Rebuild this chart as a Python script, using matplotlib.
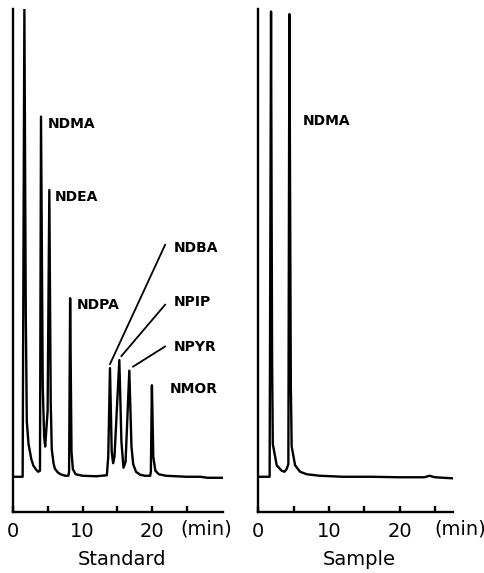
import matplotlib
matplotlib.use("Agg")
import matplotlib.pyplot as plt

# ---- Data (time in min, detector signal in % of full scale) ----
std_time = [0.0, 1.35, 1.6, 1.8, 1.95, 2.2, 2.6, 2.9, 3.3, 3.6, 3.85,
            4.0, 4.25, 4.45, 4.6, 4.95, 5.2, 5.4, 5.55, 5.8, 6.0, 6.4, 6.8, 7.5, 7.95,
            8.05, 8.2, 8.4, 8.6, 9.0, 10.0, 12.0, 13.5,
            13.7, 13.95, 14.2, 14.4, 14.6, 15.3, 15.6, 15.9,
            16.2, 16.74, 17.05, 17.3, 17.7, 18.3, 19.0, 19.75,
            19.85, 20.0, 20.2, 20.5, 21.0, 22.0, 25.0, 27.0, 28.0, 30.1]
std_signal = [7.0, 7.0, 100.0, 40.0, 18.0, 13.5, 10.5, 9.2, 8.4, 8.0, 8.2,
              78.6, 25.0, 15.0, 13.0, 20.0, 64.0, 22.0, 12.5, 9.7, 8.6, 7.9, 7.5, 7.2, 7.2,
              8.0, 42.5, 12.0, 8.5, 7.5, 7.2, 7.1, 7.3,
              11.0, 28.6, 12.0, 9.7, 11.0, 30.2, 14.0, 8.8,
              10.0, 28.1, 13.0, 9.5, 8.0, 7.4, 7.2, 7.2,
              8.0, 25.2, 11.0, 8.2, 7.5, 7.2, 7.0, 7.0, 6.8, 6.8]

smp_time = [0.0, 1.6, 1.8, 1.95, 2.05, 2.6, 3.3, 3.7, 4.0, 4.25,
            4.4, 4.6, 4.72, 5.2, 5.9, 6.85, 8.7, 12.0, 16.0, 20.0, 23.5, 24.2, 25.0, 27.4]
smp_signal = [7.0, 7.0, 99.5, 30.0, 13.5, 9.3, 8.2, 8.0, 8.5, 9.5,
              99.0, 25.0, 13.0, 9.3, 8.0, 7.5, 7.2, 7.0, 7.0, 6.9, 6.9, 7.2, 6.9, 6.7]

tick_pos = [0, 5, 10, 15, 20, 25]
tick_labels = ["0", "", "10", "", "20", ""]

std_peaks = ["NDMA", "NDEA", "NDPA", "NDBA", "NPIP", "NPYR", "NMOR"]
std_peak_time = [4.0, 5.2, 8.2, 13.95, 15.3, 16.74, 20.0]
std_peak_top = [78.6, 64.0, 42.5, 28.6, 30.2, 28.1, 25.2]

smp_peaks = ["NDMA"]

LW = 1.7
LABEL_FONT = dict(fontsize=10, fontweight="bold", family="DejaVu Sans")

fig = plt.figure(figsize=(4.85, 5.73), dpi=100)
ax1 = fig.add_axes([0.0274, 0.1065, 0.433, 0.8778])
ax2 = fig.add_axes([0.5326, 0.1065, 0.4008, 0.8778])


def style_axes(ax, xmax, name, min_x):
    ax.set_xlim(0, xmax)
    ax.set_ylim(0, 100)
    for side in ["top", "right"]:
        ax.spines[side].set_visible(False)
    for side in ["left", "bottom"]:
        ax.spines[side].set_linewidth(LW)
        ax.spines[side].set_color("black")
    ax.set_yticks([])
    ax.set_xticks(tick_pos)
    ax.set_xticklabels(tick_labels)
    ax.tick_params(axis="x", direction="in", length=4, width=LW, pad=7, labelsize=14)
    ax.text(min_x, -0.034, "(min)", transform=ax.get_xaxis_transform(),
            ha="center", va="center", fontsize=14)
    ax.text(0.52, -0.095, name, transform=ax.transAxes,
            ha="center", va="center", fontsize=14)


# ---- Standard ----
ax1.plot(std_time, std_signal, color="black", lw=LW, solid_joinstyle="round")
style_axes(ax1, 30.3, "Standard", 27.9)

ax1.text(5.0, 77.1, std_peaks[0], va="center", **LABEL_FONT)
ax1.text(6.0, 62.6, std_peaks[1], va="center", **LABEL_FONT)
ax1.text(9.2, 41.2, std_peaks[2], va="center", **LABEL_FONT)
ax1.text(22.6, 24.5, std_peaks[6], va="center", **LABEL_FONT)

# leader lines for the crowded group (NDBA, NPIP, NPYR)
label_y = [52.5, 41.7, 32.8]
line_start_y = [53.1, 41.2, 32.9]
end_shift = [0.0, 0.3, 0.55]
for name, t, top, ty, sy, dt in zip(std_peaks[3:6], std_peak_time[3:6], std_peak_top[3:6],
                                    label_y, line_start_y, end_shift):
    ax1.plot([21.9, t + dt], [sy, top + 0.8], color="black", lw=1.3, clip_on=False)
    ax1.text(23.1, ty, name, va="center", **LABEL_FONT)

# ---- Sample ----
ax2.plot(smp_time, smp_signal, color="black", lw=LW, solid_joinstyle="round")
style_axes(ax2, 27.5, "Sample", 28.5)
ax2.text(6.3, 77.7, smp_peaks[0], va="center", **LABEL_FONT)

fig.savefig("out.png", dpi=100)
